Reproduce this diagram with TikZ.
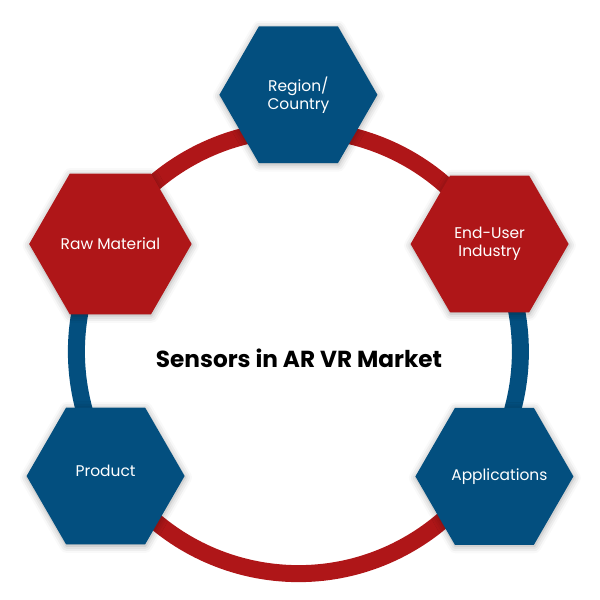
\documentclass[tikz,border=0pt]{standalone}
\usepackage{fontspec}
\setmainfont{Poppins}
\usetikzlibrary{shapes.geometric,shadows.blur}
\definecolor{segblue}{RGB}{3,79,127}
\definecolor{segred}{RGB}{175,22,24}

\begin{document}
\begin{tikzpicture}[
    every node/.style={font=\fontsize{11}{12.8}\selectfont},
    hexbox/.style={regular polygon, regular polygon sides=6, minimum size=3.95cm, inner sep=0pt,
        text=white, align=center,
        blur shadow={shadow xshift=0.3pt, shadow yshift=-1pt, shadow blur radius=5pt, shadow opacity=35}},
    bluehex/.style={hexbox, fill=segblue},
    redhex/.style={hexbox, fill=segred},
    ringseg/.style={line width=0.425cm}
]

% Canvas
\useasboundingbox (0,0) rectangle (15,15);

% Ring round the title, four coloured segments
\coordinate (ring) at (7.46,6.21);
\draw[ringseg, segblue] ([shift={(149:5.55)}]ring) arc[start angle=149, end angle=214, radius=5.55];
\draw[ringseg, segblue] ([shift={(-34:5.55)}]ring) arc[start angle=-34, end angle=31, radius=5.55];
\draw[ringseg, segred] ([shift={(29:5.55)}]ring) arc[start angle=29, end angle=151, radius=5.55];
\draw[ringseg, segred] ([shift={(212:5.55)}]ring) arc[start angle=212, end angle=328, radius=5.55];

% Title
\node[font=\fontsize{16.5}{19}\selectfont\bfseries] (title) at (7.475,6.03) {Sensors in AR VR Market};

% Segment hexagons
\node[bluehex] (region) at (7.46,12.63) {Region/\\Country};
\node[redhex] (rawmat) at (2.76,8.9) {Raw Material};
\node[redhex] (enduser) at (12.24,8.9) {End-User\\Industry};
\node[bluehex] (product) at (2.64,3.1) {\raisebox{0.25cm}{Product}};
\node[bluehex] (applications) at (12.36,3.09) {\makebox[0pt]{\hspace{0.25cm}Applications}};

\end{tikzpicture}
\end{document}
